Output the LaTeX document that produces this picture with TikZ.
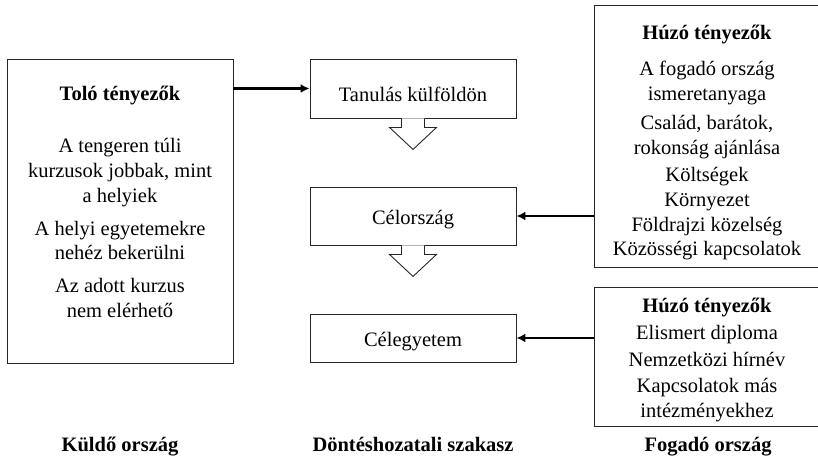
\documentclass[tikz,border=0pt]{standalone}
\usepackage{fontspec}
\setmainfont{Liberation Serif}
\usepackage{xcolor}
\usepackage{tikz}
\usetikzlibrary{positioning,arrows.meta}

\begin{document}
\begin{tikzpicture}[x=1pt, y=1pt,
  boxnode/.style={rectangle, draw=black!85, line width=0.9pt, inner sep=0pt, align=center},
  stagenode/.style={boxnode, minimum width=206pt, text height=16pt, text depth=0pt},
  textnode/.style={inner sep=0pt, align=center},
  pusharrow/.style={line width=2.7pt, -{Latex[length=9pt,width=9pt]}},
  hollow/.style={draw=black!85, line width=0.9pt, fill=white, line join=miter},
  font=\fontsize{20.5}{24.7}\selectfont]
\useasboundingbox (0,0) rectangle (818,459);

% sending country
\node[boxnode, minimum width=226pt, minimum height=304pt] (push) at (120, 248) {};
\node[textnode, below=27pt of push.north] (pushtext) {\textbf{Toló tényezők}\\[28pt]
  A tengeren túli\\ kurzusok jobbak, mint\\ a helyiek\\[8pt]
  A helyi egyetemekre\\ nehéz bekerülni\\[8pt]
  Az adott kurzus\\ nem elérhető};

% decision stages
\node[stagenode, minimum height=59pt, text height=25pt] (tanulas) at (413, 370.5) {Tanulás külföldön};
\node[stagenode, minimum height=58pt] (celorszag) at (413, 243) {Célország};
\node[stagenode, minimum height=48pt] (celegyetem) at (413, 121) {Célegyetem};

% receiving country
\node[boxnode, minimum width=226pt, minimum height=262pt] (pull1) at (707, 323) {};
\node[textnode, below=20pt of pull1.north] (pull1text) {\textbf{Húzó tényezők}\\[12pt]
  A fogadó ország\\ ismeretanyaga\\[4pt]
  Család, barátok,\\ rokonság ajánlása\\[3pt]
  Költségek\\ Környezet\\ Földrajzi közelség\\ Közösségi kapcsolatok};
\node[boxnode, minimum width=226pt, minimum height=139pt] (pull2) at (707, 102.5) {};
\node[textnode, below=11pt of pull2.north] (pull2text) {\textbf{Húzó tényezők}\\[3pt]
  Elismert diploma\\[2pt] Nemzetközi hírnév\\[1pt] Kapcsolatok más\\ intézményekhez};

% column titles
\node[textnode, anchor=base] (kuldo) at (120, 8) {\textbf{Küldő ország}};
\node[textnode, anchor=base] (dontes) at (413, 8) {\textbf{Döntéshozatali szakasz}};
\node[textnode, anchor=base] (fogado) at (708, 8) {\textbf{Fogadó ország}};

% connectors
\draw[pusharrow] (push.east |- tanulas.west) -- (tanulas.west);
\draw[pusharrow] (pull1.west |- celorszag.east) -- (celorszag.east);
\draw[pusharrow] (pull2.west |- celegyetem.east) -- (celegyetem.east);

\foreach \b in {tanulas, celorszag}
  \draw[hollow] ([xshift=-11.5pt]\b.south) -- ++(0,-9) -- ++(-12,0) -- ++(23.5,-22)
    -- ++(23.5,22) -- ++(-12,0) -- ++(0,9);

\end{tikzpicture}
\end{document}
